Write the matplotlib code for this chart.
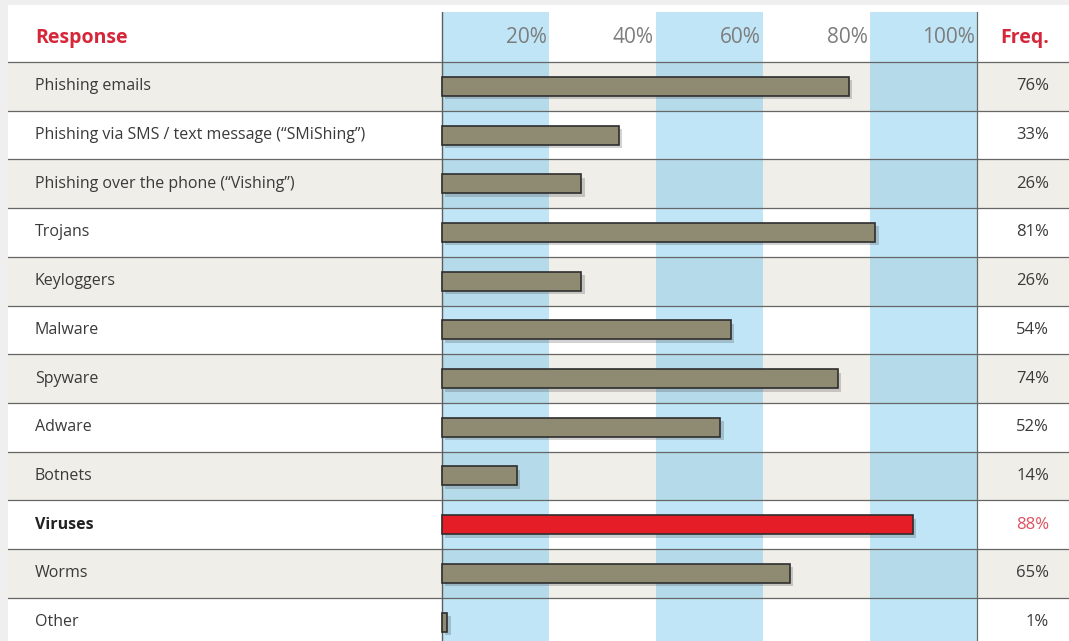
import matplotlib.pyplot as plt
import matplotlib.patheffects as pe
from matplotlib.patches import Rectangle

# data
responses = ["Phishing emails", "Phishing via SMS / text message (“SMiShing”)",
             "Phishing over the phone (“Vishing”)", "Trojans", "Keyloggers", "Malware",
             "Spyware", "Adware", "Botnets", "Viruses", "Worms", "Other"]
freq = [76, 33, 26, 81, 26, 54, 74, 52, 14, 88, 65, 1]
ticks = [20, 40, 60, 80, 100]
highlight = "Viruses"

plt.rcParams['font.family'] = ['Open Sans', 'DejaVu Sans']

W, H = 1069, 641
x0px, x100px = 442, 977
scale = (x100px - x0px) / 100.0
left_px, top_px = 8, 12
row_h = 48.7
head_line = 62

def px_x(px):
    return (px - x0px) / scale

fig = plt.figure(figsize=(W / 100, H / 100), dpi=100, facecolor='#efefef')
fig.patches.append(Rectangle((left_px / W, 0), 1, (H - 5) / H, transform=fig.transFigure,
                             facecolor='white', edgecolor='none', zorder=-1))
ax = fig.add_axes([left_px / W, 0, (W - left_px) / W, (H - top_px) / H])
ax.set_xlim(px_x(left_px), px_x(W))
ax.set_ylim(-0.5 + (H - head_line) / row_h, -0.5 - (head_line - top_px) / row_h)
ax.axis('off')
ax.patch.set_alpha(0)

n = len(responses)
for i in range(n):
    if i % 2 == 0:
        ax.axhspan(i - 0.5, i + 0.5, color='#efeee8', lw=0, zorder=1)

for t in ticks[::2]:
    ax.axvspan(t - 20, t, color='#5fbeed', alpha=0.4, lw=0, zorder=2)

for i in range(n + 1):
    ax.axhline(i - 0.5, color='#666666', lw=0.9, zorder=3)
ax.axvline(0, color='#5e5e5e', lw=1, zorder=3)
ax.axvline(100, color='#6a6a6a', lw=0.9, zorder=3)

colors = ['#e51d26' if r == highlight else '#8e8b72' for r in responses]
bars = ax.barh(range(n), freq, height=0.39, color=colors, edgecolor='#2e2e2e',
               lw=1.2, zorder=4)
for b in bars:
    b.set_path_effects([pe.SimplePatchShadow(offset=(2.5, -2.5), shadow_rgbFace='#333333',
                                             alpha=0.22), pe.Normal()])

for i, (r, f) in enumerate(zip(responses, freq)):
    hl = r == highlight
    ax.text(px_x(35), i, r, ha='left', va='center', fontsize=11.5,
            color='#222222' if hl else '#3a3a3a', fontweight='bold' if hl else 'normal', zorder=5)
    ax.text(px_x(1049), i, f"{f}%", ha='right', va='center', fontsize=12,
            color='#e0505e' if hl else '#3a3a3a', zorder=5)

ax.text(px_x(35), -1, "Response", ha='left', va='center', fontsize=14,
        color='#d6263a', fontweight='bold', zorder=5)
ax.text(px_x(1049), -1, "Freq.", ha='right', va='center', fontsize=14,
        color='#d6263a', fontweight='bold', zorder=5)
for t in ticks:
    ax.text(t - 0.4, -1, f"{t}%", ha='right', va='center', fontsize=15,
            color='#7d7d7d', zorder=5)

plt.savefig("out.png", dpi=100, facecolor=fig.get_facecolor())
